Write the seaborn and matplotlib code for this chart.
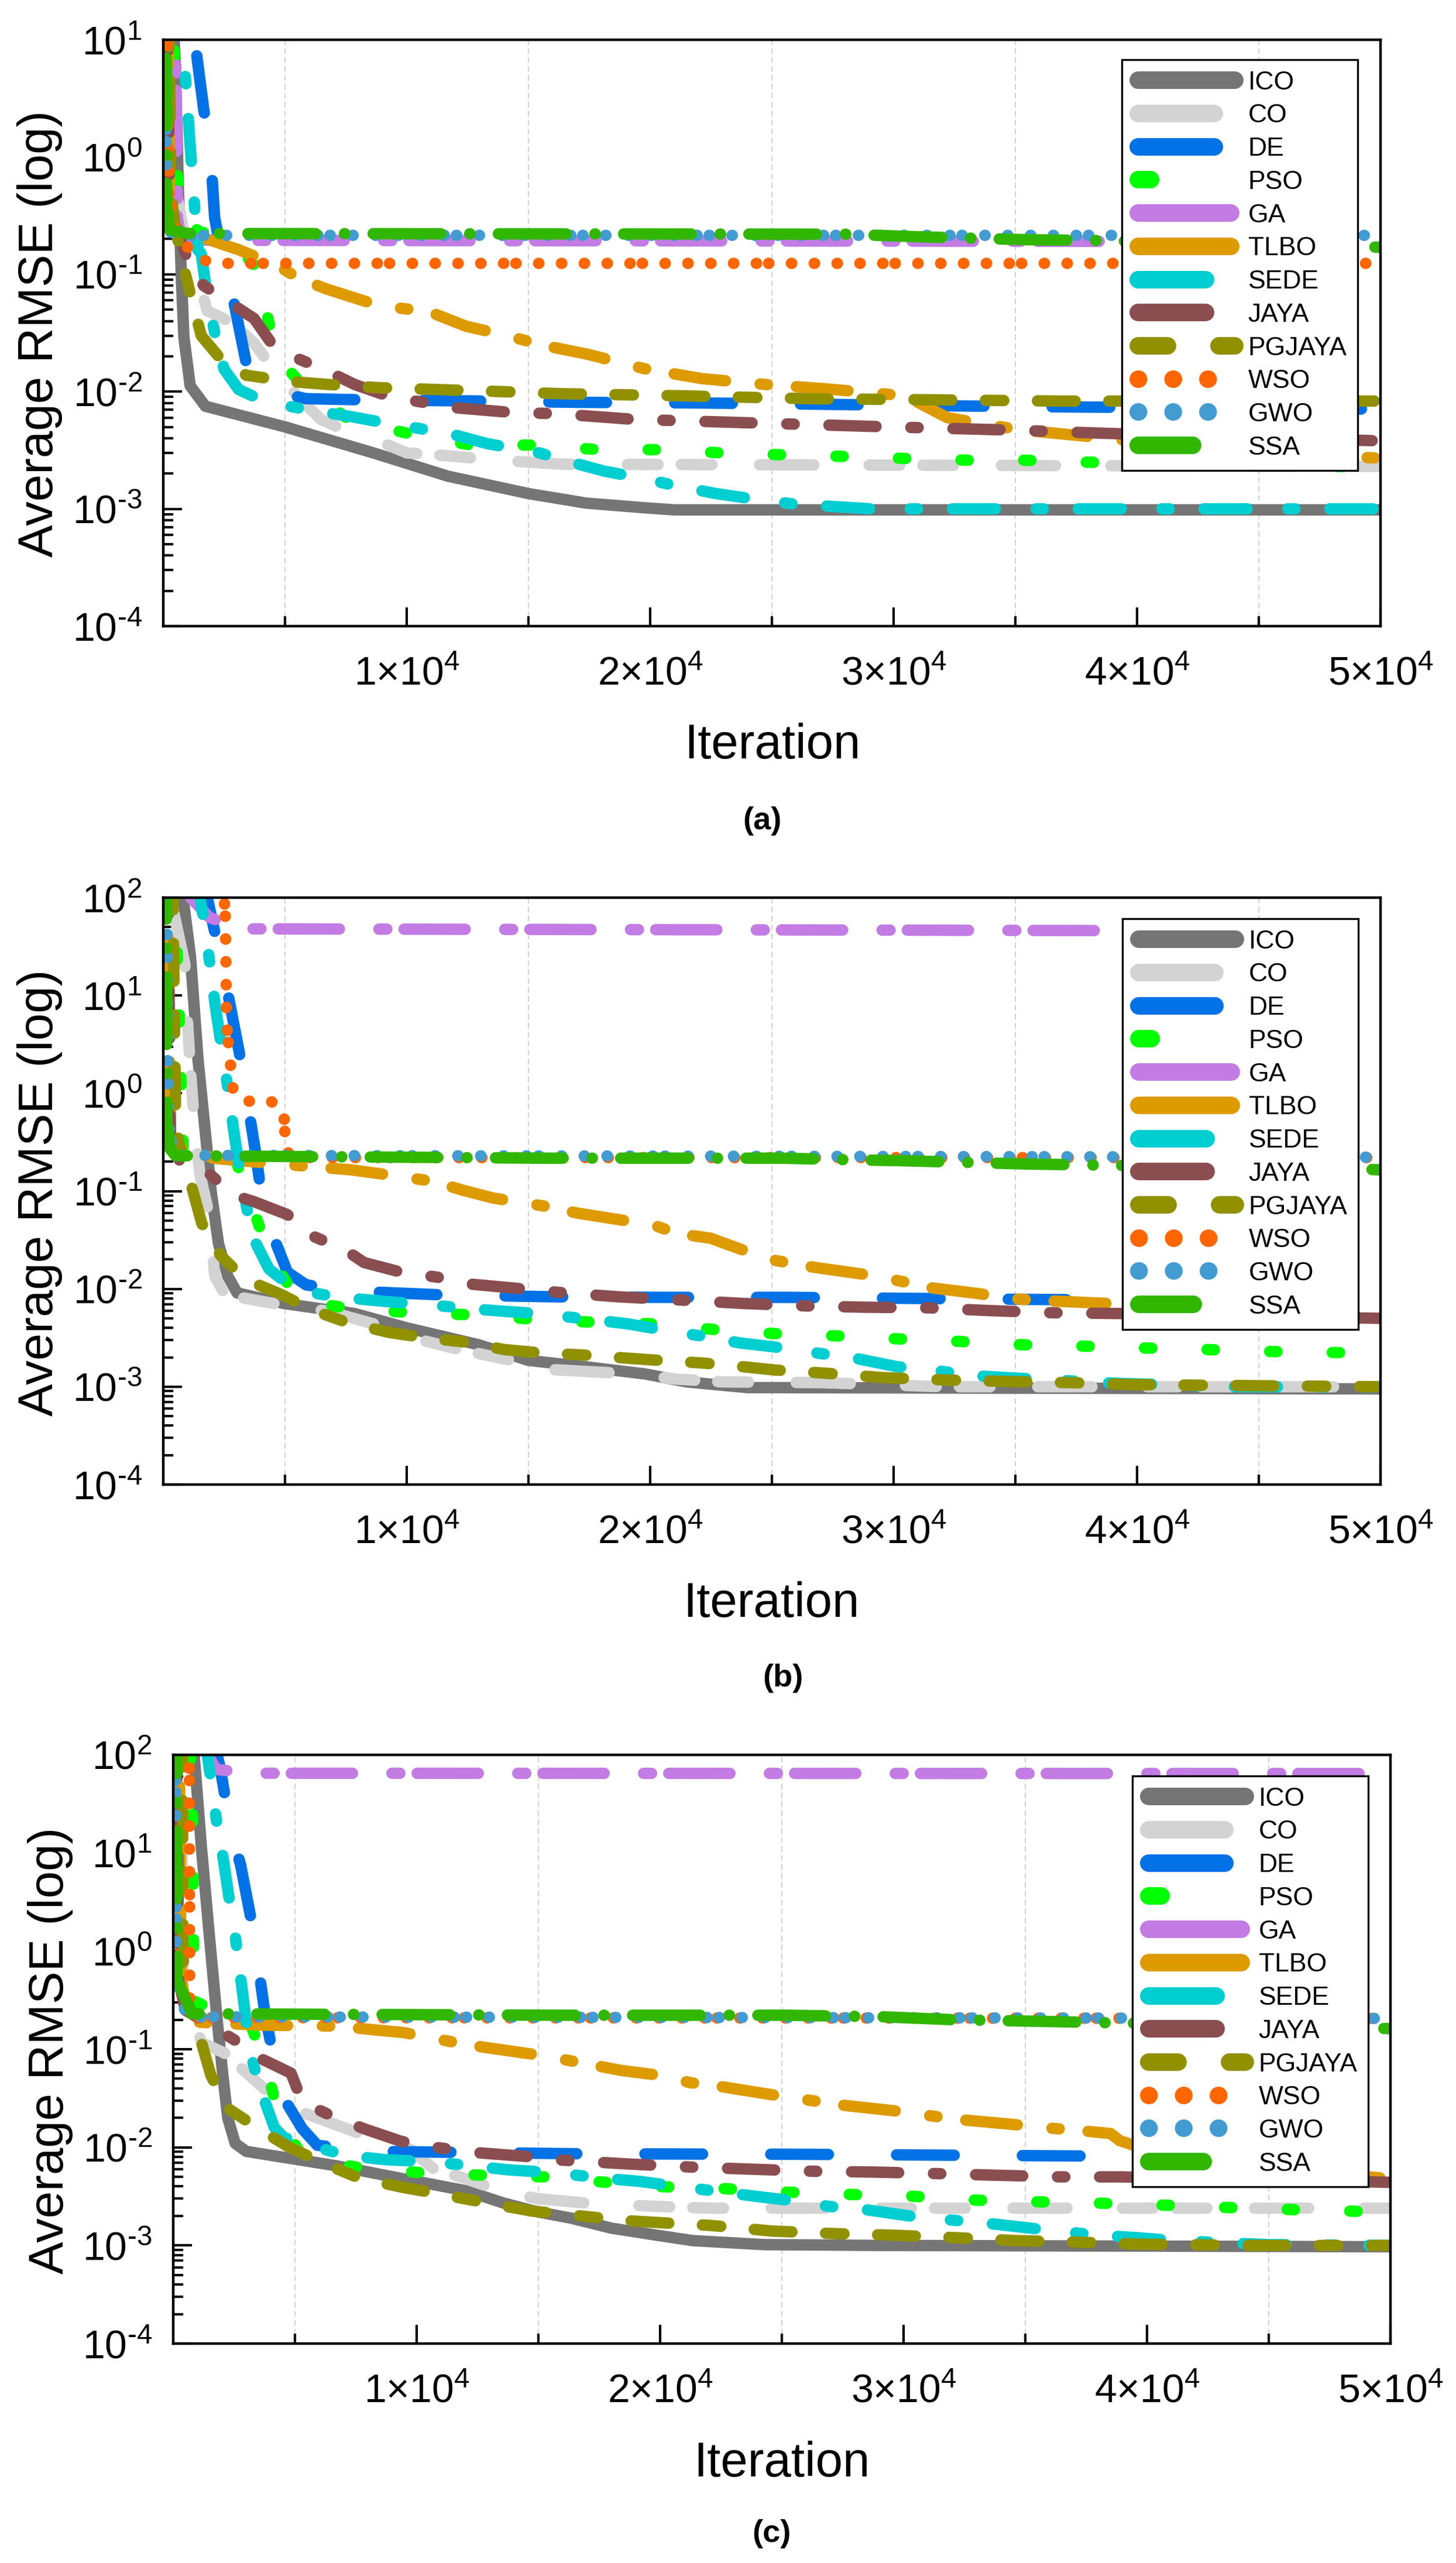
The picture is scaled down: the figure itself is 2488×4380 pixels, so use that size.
import numpy as np
import pandas as pd
import seaborn as sns
import matplotlib
matplotlib.use('Agg')
import matplotlib.pyplot as plt
from matplotlib.lines import Line2D
from matplotlib.legend_handler import HandlerLine2D
from matplotlib.ticker import FixedLocator, FuncFormatter, LogLocator, NullFormatter

algos = ['ICO', 'CO', 'DE', 'PSO', 'GA', 'TLBO', 'SEDE', 'JAYA', 'PGJAYA', 'WSO', 'GWO', 'SSA']
colors = ['#757575', '#D3D3D3', '#0272E6', '#00FF00', '#C27CE3', '#DE9B00',
          '#00CED1', '#8B4E50', '#919100', '#FF6600', '#429BD1', '#31B700']

# panel (a)
a_ico_x = [450, 505, 620, 750, 850, 1106, 1730, 5000, 8630, 11690, 15000, 17366, 19800, 21020, 50000]
a_ico_y = [10, 5, .55, .087, .029, .0112, .0075, .005, .003, .0019, .00135, .00112, .00102, .00098, .00098]
a_co_x = [200, 300, 900, 1350, 1800, 2790, 3730, 4790, 5400, 6470, 7160, 9090, 10000, 11080, 12000, 13680, 16440, 50000]
a_co_y = [10, .9, .2, .11, .049, .039, .026, .013, .0097, .0058, .005, .0036, .003, .0029, .0028, .0026, .0024, .0023]
a_de_x = [1270, 1370, 1660, 1950, 2110, 2400, 2880, 3410, 4010, 4400, 5870, 8240, 13220, 17000, 22000, 27000, 31000, 37000, 49000, 50000]
a_de_y = [10, 7.5, 2.57, 1.02, .305, .146, .061, .0174, .0112, .0101, .0087, .0085, .0083, .0081, .008, .0078, .0076, .0074, .0071, .0071]
a_pso_x = [430, 520, 720, 1500, 2640, 3730, 4180, 4640, 5870, 7620, 10240, 12620, 15140, 17900, 20160, 22950, 25200, 28000, 30260, 33080, 35330, 37900, 48300, 50000]
a_pso_y = [10, 1, .3, .23, .21, .12, .054, .02, .0105, .0058, .0043, .0035, .0035, .0032, .0032, .003, .0029, .0028, .0027, .0026, .0026, .0025, .0023, .0023]
a_ga_x = [500, 580, 745, 2000, 30000, 47000]
a_ga_y = [10, .3, .197, .195, .192, .19]
a_tlbo_x = [200, 260, 500, 1950, 3100, 4640, 5550, 6700, 8630, 9540, 10920, 12450, 14140, 15530, 17480, 19740, 22120, 24740, 27100, 29980, 31000, 32200, 33900, 35260, 37700, 39280, 49280, 50000]
a_tlbo_y = [10, .5, .25, .195, .162, .12, .093, .075, .056, .052, .048, .036, .03, .025, .0207, .0157, .0129, .0115, .0106, .0094, .0081, .006, .0052, .0047, .0042, .0039, .00275, .0027]
a_sede_x = [760, 792, 940, 1060, 1180, 1300, 1420, 1560, 1800, 2110, 2500, 3100, 4180, 6090, 7550, 8930, 10630, 11920, 13300, 15450, 16750, 18100, 19800, 21200, 22700, 24400, 25900, 29060, 50000]
a_sede_y = [10, 9, 4, 1.69, .76, .347, .162, .15, .067, .032, .0155, .0104, .0082, .0069, .0062, .0055, .0048, .0043, .0036, .003, .0025, .0021, .0018, .00155, .00135, .0012, .0011, .001, .001]
a_jaya_x = [180, 250, 400, 700, 960, 1660, 3730, 4400, 5480, 6780, 7860, 9400, 10530, 11920, 14450, 16060, 19300, 24300, 29780, 34800, 38800, 50000]
a_jaya_y = [10, .6, .3, .2, .14, .08, .042, .0266, .0193, .0148, .0115, .0089, .0082, .0073, .0066, .0065, .0058, .0054, .005, .0047, .0044, .0038]
a_pg_x = [250, 300, 500, 800, 1180, 1560, 2330, 3410, 5170, 6780, 8850, 11300, 13850, 16300, 21370, 26490, 31730, 36850, 50000]
a_pg_y = [10, .5, .25, .124, .06, .03, .0193, .0138, .0122, .0115, .0108, .0104, .01, .0096, .0092, .0087, .0085, .0083, .0083]
a_wso_x = [150, 230, 450, 720, 1080, 1610, 2450, 50000]
a_wso_y = [10, .5, .25, .195, .164, .132, .124, .124]
a_gwo_x = [100, 130, 350, 50000]
a_gwo_y = [10, .3, .215, .215]
a_ssa_x = [120, 140, 250, 1000, 28000, 30700, 35600, 38000, 50000]
a_ssa_y = [10, .4, .24, .223, .22, .21, .197, .195, .17]

# panel (b)
b_ico_x = [812, 1119, 1426, 1732, 1962, 2270, 2650, 3035, 4950, 7860, 10000, 12920, 15000, 17340, 19800, 21500, 24000, 50000]
b_ico_y = [100, 25, 2.24, .39, .102, .029, .0135, .0091, .0071, .0056, .004, .0027, .00186, .0016, .00135, .00112, .00098, .00095]
b_co_x = [300, 890, 966, 1119, 1272, 1502, 1886, 2116, 2500, 3265, 4950, 6790, 8630, 10160, 12150, 14300, 15900, 19300, 21020, 22970, 27100, 32000, 50000]
b_co_y = [100, 20.7, 7.2, 1.68, .52, .15, .057, .0135, .0091, .0081, .0068, .0059, .0044, .0032, .0024, .00186, .0015, .00135, .0012, .00112, .0011, .001, .001]
b_de_x = [1809, 2040, 2346, 2652, 3112, 3420, 3800, 4030, 4570, 5100, 5870, 7710, 11390, 16150, 20530, 25650, 30770, 35880, 50000]
b_de_y = [100, 54, 25, 10.5, 2.7, .93, .243, .092, .032, .0148, .011, .0095, .0087, .0083, .0082, .0082, .008, .0078, .0075]
b_pso_x = [500, 660, 812, 3000, 3726, 4340, 5565, 7710, 10240, 13000, 15150, 17370, 20050, 22850, 25040, 27770, 29980, 32760, 34950, 37780, 40020, 42850, 45090, 47940, 50000]
b_pso_y = [100, 5.4, .27, .2, .063, .022, .0076, .0063, .0057, .0054, .0049, .0046, .0044, .0038, .0035, .0033, .0031, .0029, .0027, .0026, .0025, .0024, .0023, .00224, .0022]
b_ga_x = [1120, 1890, 3110, 47000]
b_ga_y = [100, 63, 48, 45.6]
b_tlbo_x = [200, 300, 2110, 4030, 6180, 7710, 8940, 11080, 12310, 13540, 15840, 17000, 18100, 20170, 21070, 22480, 24060, 25160, 26620, 29300, 30640, 31490, 33570, 34610, 36120, 38800, 48550, 50000]
b_tlbo_y = [100, .3, .216, .196, .177, .165, .15, .126, .102, .085, .069, .0596, .054, .0447, .037, .033, .0237, .0195, .0168, .0135, .0115, .0103, .0089, .008, .0076, .0071, .0045, .0042]
b_sede_x = [1500, 1730, 1960, 2146, 2420, 2650, 2880, 3112, 3420, 3726, 4340, 5260, 5720, 7100, 8480, 9240, 11160, 12530, 14000, 15420, 19070, 20780, 22120, 23700, 25400, 26920, 28450, 30150, 31620, 33200, 35150, 36610, 39290, 44160, 50000]
b_sede_y = [100, 49, 17, 7.5, 2.7, 1.14, .44, .18, .069, .032, .016, .0105, .0095, .0083, .0077, .0074, .0068, .0063, .0059, .0056, .0044, .0037, .0033, .0028, .0025, .0022, .00195, .0016, .00148, .0013, .00122, .00117, .00108, .001, .001]
b_jaya_x = [200, 300, 700, 1810, 2880, 3726, 5100, 6100, 7480, 8250, 9780, 11240, 12620, 14770, 16270, 18710, 21220, 23820, 26380, 28820, 31490, 33930, 36560, 39290, 50000]
b_jaya_y = [100, .3, .2, .157, .091, .078, .0575, .035, .025, .0186, .0148, .0132, .0112, .01, .0092, .0083, .0077, .0071, .0067, .0065, .0064, .006, .0057, .0056, .005]
b_pg_x = [400, 510, 660, 1120, 1580, 2350, 3340, 4880, 6030, 7480, 9240, 10620, 12460, 14000, 15300, 17370, 19800, 22120, 23820, 25160, 27110, 29550, 32230, 34780, 37340, 39780, 50000]
b_pg_y = [100, .5, .295, .123, .047, .022, .0126, .0087, .0062, .0046, .0036, .0032, .00285, .0024, .00224, .0021, .0019, .00175, .0016, .00148, .00138, .00124, .00117, .00113, .0011, .00105, .001]
b_wso_x = [2500, 2545, 2575, 2590, 2620, 2700, 2870, 3390, 4420, 4950, 5000, 5030, 5400, 50000]
b_wso_y = [100, 64.5, 22, 7.8, 4.6, 2.8, 1.05, .83, .83, .64, .376, .257, .22, .22]
b_gwo_x = [150, 200, 430, 50000]
b_gwo_y = [100, .5, .232, .222]
b_ssa_x = [120, 150, 280, 500, 15660, 25400, 27840, 30520, 35510, 38070, 49030, 50000]
b_ssa_y = [100, .5, .27, .23, .217, .217, .21, .204, .189, .185, .168, .165]

# panel (c)
c_ico_x = [860, 1165, 1470, 1780, 2040, 2240, 2545, 3000, 4540, 6680, 9600, 12050, 13580, 14960, 16340, 18000, 19880, 21340, 24260, 29140, 50000]
c_ico_y = [100, 11, 1.58, .23, .054, .02, .011, .0091, .0079, .0065, .0047, .0036, .0027, .0022, .0019, .0015, .00127, .00112, .00102, .001, .00097]
c_co_x = [350, 400, 1165, 2085, 2930, 3770, 5460, 6680, 7600, 8980, 9750, 10750, 11900, 13580, 14960, 16960, 19880, 22000, 50000]
c_co_y = [100, .41, .117, .092, .06, .039, .022, .017, .014, .0115, .0095, .0059, .0049, .0035, .003, .0027, .0025, .0024, .0024]
c_de_x = [1800, 1930, 2240, 2470, 2775, 3235, 3460, 3770, 4000, 4230, 4690, 5300, 5920, 8220, 11590, 16650, 25720, 36080, 50000]
c_de_y = [100, 74, 25.7, 14.4, 7.4, 1.9, .81, .23, .117, .066, .0275, .0155, .0105, .0091, .0089, .0086, .0085, .0082, .0078]
c_pso_x = [700, 780, 830, 860, 3235, 3850, 4380, 5380, 8060, 10290, 12660, 15250, 17320, 19640, 22560, 25120, 27920, 30110, 32910, 35100, 37950, 40220, 43020, 45210, 48080, 50000]
c_pso_y = [100, 46, 1.58, .31, .164, .063, .0186, .0076, .006, .0055, .0052, .005, .0045, .004, .0038, .0035, .0033, .0032, .0029, .0028, .0027, .0026, .00245, .00235, .00224, .0022]
c_ga_x = [1400, 1780, 3310, 49500]
c_ga_y = [100, 71, 65, 64.5]
c_tlbo_x = [250, 330, 700, 3620, 6760, 8220, 9440, 11360, 12740, 14350, 15250, 16960, 18420, 20120, 21220, 22560, 24870, 26380, 27430, 29870, 31080, 32180, 34620, 36150, 37050, 38510, 38880, 40000, 45000, 50000]
c_tlbo_y = [100, .5, .19, .176, .172, .158, .148, .12, .105, .092, .0857, .071, .0607, .0537, .0457, .0414, .0335, .0296, .027, .0232, .021, .0193, .017, .0156, .015, .0138, .0117, .0095, .006, .0048]
c_sede_x = [1400, 1550, 1780, 2050, 2315, 2545, 2700, 3000, 3235, 3620, 4150, 4540, 5920, 7070, 8680, 10670, 12200, 13740, 15740, 17440, 19150, 20730, 22190, 23780, 25480, 26940, 28530, 30230, 31690, 33280, 35230, 36570, 38030, 39610, 41070, 44970, 50000]
c_sede_y = [100, 56, 21, 8.9, 3.2, 1.44, .73, .19, .079, .037, .016, .0126, .01, .0083, .0075, .0071, .0065, .0059, .0055, .0049, .0045, .004, .0036, .0032, .00285, .0025, .0023, .002, .00184, .0017, .0015, .00138, .00127, .0012, .00112, .00102, .001]
c_jaya_x = [150, 230, 500, 1165, 2545, 3310, 4840, 5300, 6380, 7830, 9370, 10790, 12280, 14730, 15980, 18540, 21220, 23650, 26290, 28770, 31380, 33760, 36440, 38880, 50000]
c_jaya_y = [100, .5, .25, .2, .123, .087, .057, .029, .0216, .0155, .0115, .01, .0089, .008, .0074, .0068, .0063, .006, .0057, .0056, .0054, .0052, .005, .005, .0044]
c_pg_x = [380, 400, 475, 1090, 1550, 2240, 3390, 4770, 6220, 7600, 9440, 10520, 12430, 14730, 17080, 18780, 20120, 22070, 24630, 27190, 29620, 32180, 34620, 37170, 39730, 44720, 50000]
c_pg_y = [100, 1, .34, .135, .054, .025, .0162, .01, .0068, .0049, .0039, .0035, .00285, .00224, .00196, .00178, .0017, .0016, .0014, .00132, .00127, .0012, .00112, .00108, .00103, .001, .001]
c_wso_x = [660, 680, 1000, 50000]
c_wso_y = [100, .31, .21, .206]
c_gwo_x = [100, 130, 550, 50000]
c_gwo_y = [100, .5, .214, .206]
c_ssa_x = [130, 160, 780, 15740, 25240, 29140, 32060, 37170, 49600, 50000]
c_ssa_y = [100, .5, .23, .222, .222, .214, .2, .189, .163, .162]

x_ticks = [10000, 20000, 30000, 40000, 50000]

W, H = 2488, 4380
LW = 19.5  # px
PX = 0.72  # px to pt at dpi 100

sns.set_theme(style='ticks')
plt.rcParams['font.family'] = ['Liberation Sans', 'DejaVu Sans']
plt.rcParams['mathtext.fontset'] = 'custom'
plt.rcParams['mathtext.rm'] = 'Liberation Sans'
plt.rcParams['mathtext.default'] = 'regular'
plt.rcParams['lines.scale_dashes'] = False
plt.rcParams['text.color'] = 'black'
plt.rcParams['axes.labelcolor'] = 'black'
plt.rcParams['xtick.color'] = 'black'
plt.rcParams['ytick.color'] = 'black'


def dash(*parts, lw=LW):
    # visible dash / gap lengths in px -> on/off in pt, round caps eat one lw
    out = []
    for i, p in enumerate(parts):
        if i % 2 == 0:
            out.append(max(p - lw, 0.5) * PX)
        else:
            out.append((p + lw) * PX)
    return tuple(out)


dash_styles = {
    'ICO': '',
    'CO': dash(72, 20, 72, 62, 112, 75),
    'DE': dash(118, 97),
    'PSO': dash(32, 75),
    'GA': dash(124, 48, 33, 10),
    'TLBO': dash(108, 40, 32, 30),
    'SEDE': dash(93, 50, 32, 40),
    'JAYA': dash(100, 40, 32, 40),
    'PGJAYA': dash(84, 38, 51, 38),
    'WSO': dash(20, 19, 20, 19, 20, 19, 20, 19, 20, 19, 20, 1),
    'GWO': dash(20, 19, 20, 19, 20, 19, 20, 19, 20, 19, 20, 1),
    'SSA': dash(135, 30, 19, 29),
}

# iteration where a dash pattern starts, keeps the gaps in step
phase_a = [None, 18830, 25940, 24820, 25360, 25770, 32180, 27110, 25530, 24630, 22190, 23820]
phase_b = [None, 20340, 24140, 24650, 25160, 26380, 28330, 27720, 28620, 29860, 35950, 23700]
phase_c = [None, 18900, 24310, 27530, 25290, 27310, 28280, 27630, 28700, 22100, 22190, 23780]

# legend swatches use longer runs than the curves
LEG_LW = 30
legend_dashes = {
    'ICO': None,
    'CO': dash(160, 300, lw=LEG_LW),
    'DE': dash(160, 300, lw=LEG_LW),
    'PSO': dash(51, 300, lw=LEG_LW),
    'GA': dash(188, 300, lw=LEG_LW),
    'TLBO': dash(188, 300, lw=LEG_LW),
    'SEDE': dash(145, 300, lw=LEG_LW),
    'JAYA': dash(145, 300, lw=LEG_LW),
    'PGJAYA': dash(80, 58, lw=LEG_LW),
    'WSO': dash(29, 29, lw=LEG_LW),
    'GWO': dash(29, 29, lw=LEG_LW),
    'SSA': dash(123, 300, lw=LEG_LW),
}

palette = dict(zip(algos, colors))


def make_frame(series):
    frames = []
    for name, (xs, ys) in zip(algos, series):
        frames.append(pd.DataFrame({'iter': xs, 'rmse': ys, 'algo': name}))
    return pd.concat(frames, ignore_index=True)


def log_label(v, pos):
    e = int(round(np.log10(v)))
    if e < 0:
        return r'$\mathdefault{10^{\text{-}%d}}$' % abs(e)
    return r'$\mathdefault{10^{%d}}$' % e


def x_label(v, pos):
    return r'%d×$\mathdefault{10^{4}}$' % round(v / 1e4)


def set_phase(ax, line, name, start_iter):
    # shift the dash pattern so that a dash starts at start_iter
    seq = dash_styles[name]
    xy = ax.transData.transform(np.column_stack(line.get_data()))
    seg = np.hypot(*np.diff(xy, axis=0).T)
    cum = np.concatenate([[0], np.cumsum(seg)])
    px_len = np.interp(start_iter, np.asarray(line.get_xdata(), dtype=float), cum)
    offset = -(px_len + LW / 2) * PX % sum(seq)
    line.set_linestyle((offset, seq))


def draw_panel(fig, series, phases, box, ymax, leg_xy, ylab_xy, xlab_xy, tag, tag_xy):
    left, right, top, bottom = box
    ax = fig.add_axes([left / W, 1 - bottom / H, (right - left) / W, (bottom - top) / H])
    ax.set_yscale('log')
    df = make_frame(series)
    sns.lineplot(data=df, x='iter', y='rmse', hue='algo', style='algo',
                 hue_order=algos, style_order=algos, palette=palette,
                 dashes=dash_styles, estimator=None, sort=False, legend=False,
                 lw=LW * PX, dash_capstyle='round', solid_capstyle='round', ax=ax)
    ax.set_xlim(1, 50000)
    ax.set_ylim(1e-4, ymax)
    ax.set_xlabel('')
    ax.set_ylabel('')

    for line, name, start in zip(ax.get_lines(), algos, phases):
        if start is not None:
            set_phase(ax, line, name, start)

    ax.set_axisbelow(True)
    ax.xaxis.set_major_locator(FixedLocator(x_ticks))
    ax.xaxis.set_minor_locator(FixedLocator([5000, 15000, 25000, 35000, 45000]))
    ax.yaxis.set_major_locator(LogLocator(base=10, numticks=12))
    ax.yaxis.set_minor_locator(LogLocator(base=10, subs=np.arange(2, 10), numticks=12))
    ax.yaxis.set_minor_formatter(NullFormatter())
    ax.xaxis.set_major_formatter(FuncFormatter(x_label))
    ax.yaxis.set_major_formatter(FuncFormatter(log_label))
    ax.tick_params(axis='both', which='major', direction='in', length=23, width=3,
                   labelsize=49, top=False, right=False)
    ax.tick_params(axis='both', which='minor', direction='in', length=12, width=3,
                   top=False, right=False)
    ax.tick_params(axis='x', which='major', pad=36)
    ax.tick_params(axis='y', which='major', pad=26)
    ax.grid(True, axis='x', which='minor', color='#D3D3D3', lw=1.5, ls=(0, (7, 4)))
    for s in ax.spines.values():
        s.set_linewidth(3.2)
        s.set_color('black')

    handles = []
    for name in algos:
        h = Line2D([0, 1], [0, 0], color=palette[name], lw=LEG_LW * PX,
                   solid_capstyle='round', dash_capstyle='round', label=name)
        if legend_dashes[name] is not None:
            h.set_dashes(legend_dashes[name])
        handles.append(h)
    leg = ax.legend(handles=handles, loc='upper left',
                    bbox_to_anchor=(leg_xy[0] / W, 1 - leg_xy[1] / H),
                    bbox_transform=fig.transFigure, borderaxespad=0, borderpad=0.42,
                    handlelength=3.93, handletextpad=0.5, labelspacing=0.354, fontsize=32,
                    frameon=True, fancybox=False, framealpha=1, edgecolor='black',
                    handler_map={Line2D: HandlerLine2D(xpad=0.22)})
    leg.get_frame().set_linewidth(2.4)
    for t in leg.get_texts():
        t.set_color('black')

    fig.text(ylab_xy[0] / W, 1 - ylab_xy[1] / H, 'Average RMSE (log)', rotation=90,
             ha='center', va='center', fontsize=60, color='black')
    fig.text(xlab_xy[0] / W, 1 - xlab_xy[1] / H, 'Iteration', ha='center', va='baseline',
             fontsize=60, color='black')
    fig.text(tag_xy[0] / W, 1 - tag_xy[1] / H, tag, ha='center', va='baseline',
             fontsize=39, fontweight='bold', color='black')
    return ax


fig = plt.figure(figsize=(W / 100, H / 100), dpi=100, facecolor='white')

series_a = [(a_ico_x, a_ico_y), (a_co_x, a_co_y), (a_de_x, a_de_y), (a_pso_x, a_pso_y),
            (a_ga_x, a_ga_y), (a_tlbo_x, a_tlbo_y), (a_sede_x, a_sede_y), (a_jaya_x, a_jaya_y),
            (a_pg_x, a_pg_y), (a_wso_x, a_wso_y), (a_gwo_x, a_gwo_y), (a_ssa_x, a_ssa_y)]
series_b = [(b_ico_x, b_ico_y), (b_co_x, b_co_y), (b_de_x, b_de_y), (b_pso_x, b_pso_y),
            (b_ga_x, b_ga_y), (b_tlbo_x, b_tlbo_y), (b_sede_x, b_sede_y), (b_jaya_x, b_jaya_y),
            (b_pg_x, b_pg_y), (b_wso_x, b_wso_y), (b_gwo_x, b_gwo_y), (b_ssa_x, b_ssa_y)]
series_c = [(c_ico_x, c_ico_y), (c_co_x, c_co_y), (c_de_x, c_de_y), (c_pso_x, c_pso_y),
            (c_ga_x, c_ga_y), (c_tlbo_x, c_tlbo_y), (c_sede_x, c_sede_y), (c_jaya_x, c_jaya_y),
            (c_pg_x, c_pg_y), (c_wso_x, c_wso_y), (c_gwo_x, c_gwo_y), (c_ssa_x, c_ssa_y)]

draw_panel(fig, series_a, phase_a, (279, 2359, 68, 1070), 10, (1917, 102), (68, 570), (1320, 1296), '(a)', (1302, 1417))
draw_panel(fig, series_b, phase_b, (279, 2359, 1534, 2537), 100, (1918, 1570), (68, 2038), (1318, 2763), '(b)', (1338, 2882))
draw_panel(fig, series_c, phase_c, (296, 2376, 2999, 4005), 100, (1935, 3035), (86, 3504), (1336, 4232), '(c)', (1318, 4344))

fig.savefig('out.png', dpi=100)
